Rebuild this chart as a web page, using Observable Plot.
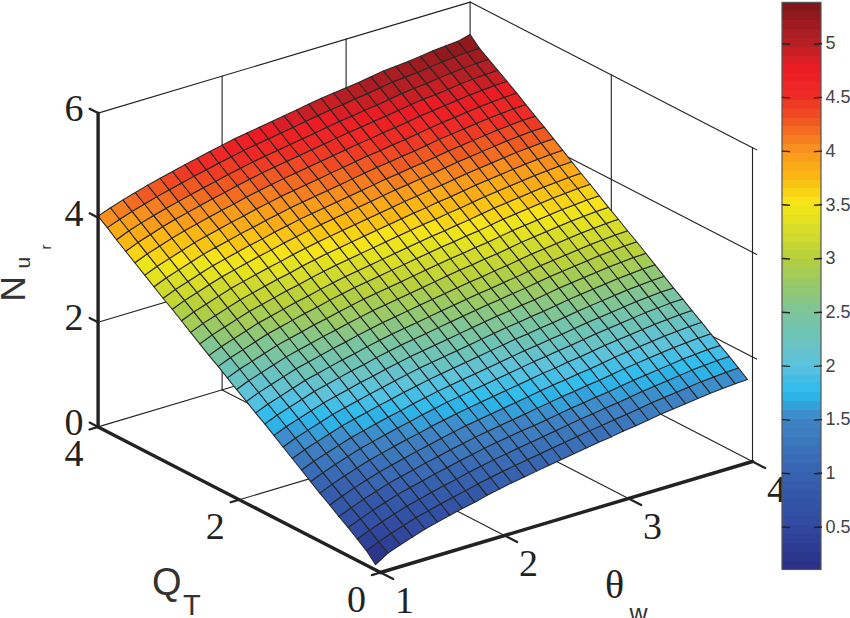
<!DOCTYPE html>
<html><head><meta charset="utf-8">
<style>html,body{margin:0;padding:0;background:#fff;overflow:hidden}svg{display:block}</style>
<script src="https://cdn.jsdelivr.net/npm/d3@7"></script>
<script src="https://cdn.jsdelivr.net/npm/@observablehq/plot@0.6"></script>
</head><body><div id="chart"></div><script>
const thetaGrid = [1,1.1,1.2,1.3,1.4,1.5,1.6,1.7,1.8,1.9,2,2.1,2.2,2.3,2.4,2.5,2.6,2.7,2.8,2.9,3,3.1,3.2,3.3,3.4,3.5,3.6,3.7,3.8,3.9,4];
const qGrid = [.07,.2,.33,.46,.59,.72,.86,.99,1.12,1.25,1.38,1.51,1.64,1.77,1.9,2.04,2.17,2.3,2.43,2.56,2.69,2.82,2.95,3.08,3.21,3.34,3.48,3.61,3.74,3.87,4];
// Nu_r, one row per Q value, one column per theta value
const nuValues = [
[.10,.25,.34,.42,.50,.56,.62,.68,.73,.79,.84,.89,.93,.97,1.01,1.05,1.09,1.13,1.17,1.20,1.24,1.27,1.31,1.35,1.38,1.41,1.44,1.47,1.49,1.51,1.52],
[.28,.38,.47,.55,.63,.69,.75,.81,.86,.92,.97,1.02,1.06,1.10,1.14,1.18,1.22,1.26,1.30,1.33,1.37,1.40,1.44,1.48,1.51,1.54,1.57,1.60,1.62,1.64,1.65],
[.41,.51,.60,.68,.76,.82,.88,.94,.99,1.05,1.10,1.15,1.19,1.23,1.27,1.31,1.35,1.39,1.43,1.46,1.50,1.53,1.57,1.61,1.64,1.67,1.70,1.73,1.75,1.77,1.78],
[.54,.64,.73,.81,.89,.95,1.01,1.07,1.12,1.18,1.23,1.28,1.32,1.36,1.40,1.43,1.47,1.51,1.55,1.58,1.62,1.65,1.69,1.73,1.76,1.79,1.82,1.85,1.87,1.89,1.90],
[.66,.76,.85,.93,1.01,1.07,1.13,1.19,1.24,1.30,1.35,1.40,1.44,1.48,1.52,1.56,1.60,1.64,1.68,1.71,1.75,1.78,1.82,1.86,1.89,1.92,1.95,1.98,2.00,2.02,2.03],
[.79,.89,.98,1.06,1.14,1.20,1.26,1.32,1.37,1.43,1.48,1.53,1.57,1.61,1.65,1.69,1.73,1.77,1.81,1.84,1.88,1.91,1.95,1.99,2.02,2.05,2.08,2.11,2.13,2.15,2.16],
[.92,1.02,1.11,1.19,1.27,1.33,1.39,1.45,1.50,1.56,1.61,1.66,1.70,1.74,1.78,1.82,1.86,1.90,1.94,1.97,2.01,2.04,2.08,2.12,2.15,2.18,2.21,2.24,2.26,2.28,2.29],
[1.05,1.15,1.24,1.32,1.40,1.46,1.52,1.58,1.63,1.69,1.74,1.79,1.83,1.87,1.91,1.95,1.99,2.03,2.07,2.10,2.14,2.17,2.21,2.25,2.28,2.31,2.34,2.37,2.39,2.41,2.42],
[1.18,1.28,1.36,1.44,1.52,1.58,1.64,1.70,1.75,1.81,1.86,1.91,1.95,1.99,2.03,2.07,2.11,2.15,2.19,2.22,2.26,2.29,2.33,2.37,2.40,2.43,2.46,2.49,2.51,2.53,2.54],
[1.31,1.41,1.49,1.57,1.65,1.71,1.77,1.83,1.88,1.94,1.99,2.04,2.08,2.12,2.16,2.20,2.24,2.28,2.32,2.35,2.39,2.42,2.46,2.50,2.53,2.56,2.59,2.62,2.64,2.66,2.67],
[1.44,1.54,1.62,1.70,1.78,1.84,1.90,1.96,2.01,2.07,2.12,2.17,2.21,2.25,2.29,2.33,2.37,2.41,2.45,2.48,2.52,2.55,2.59,2.63,2.66,2.69,2.72,2.75,2.77,2.79,2.80],
[1.57,1.67,1.75,1.83,1.91,1.97,2.03,2.09,2.14,2.20,2.25,2.30,2.34,2.38,2.42,2.46,2.50,2.54,2.58,2.61,2.65,2.68,2.72,2.76,2.79,2.82,2.85,2.88,2.90,2.92,2.93],
[1.70,1.80,1.88,1.96,2.04,2.10,2.16,2.22,2.27,2.33,2.38,2.43,2.47,2.51,2.55,2.59,2.63,2.67,2.71,2.74,2.78,2.81,2.85,2.89,2.92,2.95,2.98,3.01,3.03,3.05,3.06],
[1.82,1.92,2.00,2.08,2.16,2.22,2.28,2.34,2.39,2.45,2.50,2.55,2.59,2.63,2.67,2.71,2.75,2.79,2.83,2.86,2.90,2.93,2.97,3.01,3.04,3.07,3.10,3.13,3.15,3.17,3.18],
[1.95,2.05,2.13,2.21,2.29,2.35,2.41,2.47,2.52,2.58,2.63,2.68,2.72,2.76,2.80,2.84,2.88,2.92,2.96,2.99,3.03,3.06,3.10,3.14,3.17,3.20,3.23,3.26,3.28,3.30,3.31],
[2.08,2.18,2.26,2.34,2.42,2.48,2.54,2.60,2.65,2.71,2.76,2.81,2.85,2.89,2.93,2.97,3.01,3.05,3.09,3.12,3.16,3.19,3.23,3.27,3.30,3.33,3.36,3.39,3.41,3.43,3.44],
[2.21,2.31,2.39,2.47,2.55,2.61,2.67,2.73,2.78,2.84,2.89,2.94,2.98,3.02,3.06,3.10,3.14,3.18,3.22,3.25,3.29,3.32,3.36,3.40,3.43,3.46,3.49,3.52,3.54,3.56,3.57],
[2.34,2.44,2.52,2.60,2.68,2.74,2.80,2.86,2.91,2.97,3.02,3.07,3.11,3.15,3.19,3.23,3.27,3.31,3.35,3.38,3.42,3.45,3.49,3.53,3.56,3.59,3.62,3.65,3.67,3.69,3.70],
[2.46,2.56,2.64,2.72,2.80,2.86,2.92,2.98,3.03,3.09,3.14,3.19,3.23,3.27,3.31,3.35,3.39,3.43,3.47,3.50,3.54,3.57,3.61,3.65,3.68,3.71,3.74,3.77,3.79,3.81,3.82],
[2.59,2.69,2.77,2.85,2.93,2.99,3.05,3.11,3.16,3.22,3.27,3.32,3.36,3.40,3.44,3.48,3.52,3.56,3.60,3.63,3.67,3.70,3.74,3.78,3.81,3.84,3.87,3.90,3.92,3.94,3.95],
[2.72,2.82,2.90,2.98,3.06,3.12,3.18,3.24,3.29,3.35,3.40,3.45,3.49,3.53,3.57,3.61,3.65,3.69,3.73,3.76,3.80,3.83,3.87,3.91,3.94,3.97,4.00,4.03,4.05,4.07,4.08],
[2.85,2.95,3.03,3.11,3.19,3.25,3.31,3.37,3.42,3.48,3.53,3.58,3.62,3.66,3.70,3.74,3.78,3.82,3.86,3.89,3.93,3.96,4.00,4.04,4.07,4.10,4.13,4.16,4.18,4.20,4.21],
[2.98,3.08,3.16,3.24,3.32,3.38,3.44,3.50,3.55,3.61,3.66,3.71,3.75,3.79,3.83,3.87,3.91,3.95,3.99,4.02,4.06,4.09,4.13,4.17,4.20,4.23,4.26,4.29,4.31,4.33,4.34],
[3.10,3.20,3.28,3.36,3.44,3.50,3.56,3.62,3.67,3.73,3.78,3.83,3.87,3.91,3.95,3.99,4.03,4.07,4.11,4.14,4.18,4.21,4.25,4.29,4.32,4.35,4.38,4.41,4.43,4.45,4.46],
[3.23,3.33,3.41,3.49,3.57,3.63,3.69,3.75,3.80,3.86,3.91,3.96,4.00,4.04,4.08,4.12,4.16,4.20,4.24,4.27,4.31,4.34,4.38,4.42,4.45,4.48,4.51,4.54,4.56,4.58,4.59],
[3.36,3.46,3.54,3.62,3.70,3.76,3.82,3.88,3.93,3.99,4.04,4.09,4.13,4.17,4.21,4.25,4.29,4.33,4.37,4.40,4.44,4.47,4.51,4.55,4.58,4.61,4.64,4.67,4.69,4.71,4.72],
[3.50,3.60,3.68,3.76,3.83,3.89,3.95,4.01,4.06,4.12,4.17,4.22,4.26,4.30,4.34,4.38,4.42,4.46,4.50,4.53,4.57,4.60,4.64,4.68,4.71,4.74,4.77,4.80,4.82,4.84,4.85],
[3.63,3.73,3.81,3.89,3.96,4.02,4.08,4.14,4.19,4.25,4.30,4.35,4.39,4.43,4.47,4.51,4.55,4.59,4.63,4.66,4.70,4.73,4.77,4.81,4.84,4.86,4.89,4.92,4.94,4.96,4.97],
[3.76,3.86,3.94,4.01,4.08,4.14,4.20,4.26,4.31,4.37,4.42,4.47,4.51,4.55,4.59,4.63,4.67,4.71,4.75,4.78,4.82,4.85,4.89,4.93,4.96,4.98,5.01,5.04,5.06,5.08,5.09],
[3.90,3.99,4.07,4.14,4.21,4.27,4.33,4.39,4.44,4.50,4.55,4.60,4.64,4.68,4.72,4.76,4.80,4.84,4.88,4.91,4.95,4.98,5.02,5.06,5.08,5.10,5.13,5.16,5.18,5.20,5.21],
[4.03,4.12,4.20,4.27,4.34,4.40,4.46,4.52,4.57,4.63,4.68,4.73,4.77,4.81,4.85,4.89,4.93,4.97,5.01,5.04,5.07,5.10,5.14,5.18,5.20,5.22,5.25,5.28,5.30,5.32,5.38]
];
const thetaTicks = [1,2,3,4];
const qTicks = [0,2,4];
const nuTicks = [0,2,4,6];
const barTicks = [.5,1,1.5,2,2.5,3,3.5,4,4.5,5];
const barMin = .1, barMax = 5.38;
const colorStops = [
 [.1,"#2a2e85"],[.5,"#30499f"],[1,"#3762b0"],[1.5,"#4085c5"],[1.75,"#2bbcef"],[2,"#5cc2de"],
 [2.5,"#7cc49a"],[2.75,"#97c96a"],[3,"#b6d03c"],[3.5,"#f6e717"],[3.75,"#fdb913"],[4,"#f7941e"],[4.3,"#f05223"],
 [4.5,"#ee2d25"],[4.75,"#ed1c24"],[4.9,"#cf1f26"],[5,"#b61e23"],[5.2,"#9c1b20"],[5.38,"#7a1416"]
];

// oblique view of the (theta, Q, Nu) box, in picture pixels
const px = (t,q) => 380 + (t-1)*124 - q*70.6;
const py = (t,q,z) => 572 - (t-1)*37 - q*36.4 - z*52.3;
const P = (t,q,z) => ({x:px(t,q), y:py(t,q,z)});
const seg = (id,a,b) => [{id,...P(...a)},{id,...P(...b)}];

const interp = d3.scaleLinear().domain(colorStops.map(d=>d[0])).range(colorStops.map(d=>d[1])).interpolate(d3.interpolateRgb);
const nBands = 64, bandH = (barMax-barMin)/nBands;
const bands = d3.range(nBands).map(i => barMin + i*bandH);
const thresholds = bands.slice(1);
const bandColors = bands.map(v => interp(v + bandH/2));

// surface cells
const cells = [];
for (let j=0;j<30;j++) for (let i=0;i<30;i++) {
  const c=[[j,i],[j,i+1],[j+1,i+1],[j+1,i]];
  const v=d3.mean(c,([a,b])=>nuValues[a][b]);
  for (const [a,b] of c) cells.push({id:j*30+i,v,...P(thetaGrid[b],qGrid[a],nuValues[a][b])});
}

// thin box and grid lines
const thin = [
 ...seg("t1",[1,4,6],[4,4,6]), ...seg("t2",[4,4,6],[4,0,6]), ...seg("v",[4,4,0],[4,4,6]),
 ...seg("f1",[4,4,0],[1,4,0]), ...seg("f2",[4,4,0],[4,0,0]), ...seg("vr",[4,0,0],[4,0,6])
];
thetaTicks.slice(1,3).forEach(t=>{thin.push(...seg("ft"+t,[t,0,0],[t,4,0]),...seg("wt"+t,[t,4,0],[t,4,6]));});
thin.push(...seg("fq2",[1,2,0],[4,2,0]),...seg("wq2",[4,2,0],[4,2,6]));
[2,4].forEach(z=>{thin.push(...seg("wa"+z,[1,4,z],[4,4,z]),...seg("wb"+z,[4,4,z],[4,0,z]));});
nuTicks.forEach(z=>thin.push(...seg("rt"+z,[4,0,z],[4,-.06,z])));

// heavy axes and their ticks
const heavy = [...seg("ax",[1,0,0],[4,0,0]),...seg("aq",[1,0,0],[1,4,0]),...seg("az",[1,4,0],[1,4,6])];
const tickLines = [];
thetaTicks.forEach(t=>tickLines.push(...seg("tt"+t,[t,0,0],[t,-.18,0])));
qTicks.forEach(q=>tickLines.push(...seg("tq"+q,[1,q,0],[.93,q,0])));
nuTicks.forEach(z=>tickLines.push(...seg("tz"+z,[1,4,z],[1,4.12,z])));

const serif = "'Liberation Serif','Times New Roman',serif";
const sans = "'Liberation Sans',Arial,sans-serif";
const barX1=782, barX2=821;
const barY = v => 526.5 - (v-.5)*107.4;
const barBands = bands.map(v=>({v:v+bandH/2,y1:barY(v),y2:barY(v+bandH),x1:barX1,x2:barX2}));
const barTickLines = barTicks.flatMap(v=>[
 {id:"l"+v,x:barX1,y:barY(v)},{id:"l"+v,x:barX1+7,y:barY(v)+.5},
 {id:"r"+v,x:barX2,y:barY(v)},{id:"r"+v,x:barX2-7,y:barY(v)+.5}]);
const barFrame=[{x1:barX1,x2:barX2,y1:barY(barMax),y2:barY(barMin)}];

const line=(data,o)=>Plot.line(data,{x:"x",y:"y",z:"id",...o});
const title=(text,t,q,z,o)=>Plot.text([text],{x:()=>px(t,q),y:()=>py(t,q,z),text:d=>d,fill:"#333",...o});

const chart = Plot.plot({
  width:850,height:618,margin:0,
  x:{domain:[0,850],range:[0,850],axis:null},
  y:{domain:[0,618],range:[0,618],axis:null},
  color:{type:"threshold",domain:thresholds,range:bandColors},
  marks:[
    line(thin,{stroke:"#222",strokeWidth:1.1}),
    line(cells,{fill:"v",stroke:"#262626",strokeWidth:1.05,curve:"linear-closed"}),
    line(heavy,{stroke:"#222",strokeWidth:3.4,strokeLinecap:"round"}),
    line(tickLines,{stroke:"#222",strokeWidth:2.2}),
    Plot.text(thetaTicks,{x:t=>px(t,0),y:t=>py(t,0,0),text:d=>String(d),dx:24,dy:28,fontSize:38,fontFamily:serif,fill:"#222"}),
    Plot.text(qTicks,{x:q=>px(1,q),y:q=>py(1,q,0),text:d=>String(d),dx:-24,dy:27,fontSize:38,fontFamily:serif,fill:"#222"}),
    Plot.text(nuTicks,{x:z=>px(1,4),y:z=>py(1,4,z),text:d=>String(d),dx:-24,dy:-4,fontSize:38,fontFamily:serif,fill:"#222"}),
    title("Q",1,1,0,{dx:-143,dy:47,fontSize:38,fontFamily:sans,fontWeight:300}),
    title("T",1,1,0,{dx:-118,dy:70,fontSize:29,fontFamily:sans}),
    title("θ",3,0,0,{dx:-14,dy:87,fontSize:40,fontFamily:serif,fill:"#222"}),
    title("w",3,0,0,{dx:10,dy:115,fontSize:25,fontFamily:sans}),
    title("N",1,4,2.64,{dx:-84,dy:0,fontSize:35,fontFamily:sans,rotate:-90}),
    title("u",1,4,3.14,{dx:-75,dy:0,fontSize:21,fontFamily:sans,rotate:-90}),
    title("r",1,4,3.44,{dx:-52,dy:0,fontSize:15,fontFamily:sans,rotate:-90}),
    Plot.rect(barBands,{x1:"x1",x2:"x2",y1:"y1",y2:"y2",fill:"v",shapeRendering:"crispEdges"}),
    Plot.rect(barFrame,{x1:"x1",x2:"x2",y1:"y1",y2:"y2",fill:"none",stroke:"#555",strokeWidth:1.2}),
    line(barTickLines,{stroke:"#222",strokeWidth:1.4}),
    Plot.text(barTicks,{x:()=>barX2+4,y:barY,text:d=>String(d),textAnchor:"start",fontSize:18,fontFamily:sans,fill:"#444"})
  ]
});
document.getElementById("chart").appendChild(chart);
</script></body></html>
